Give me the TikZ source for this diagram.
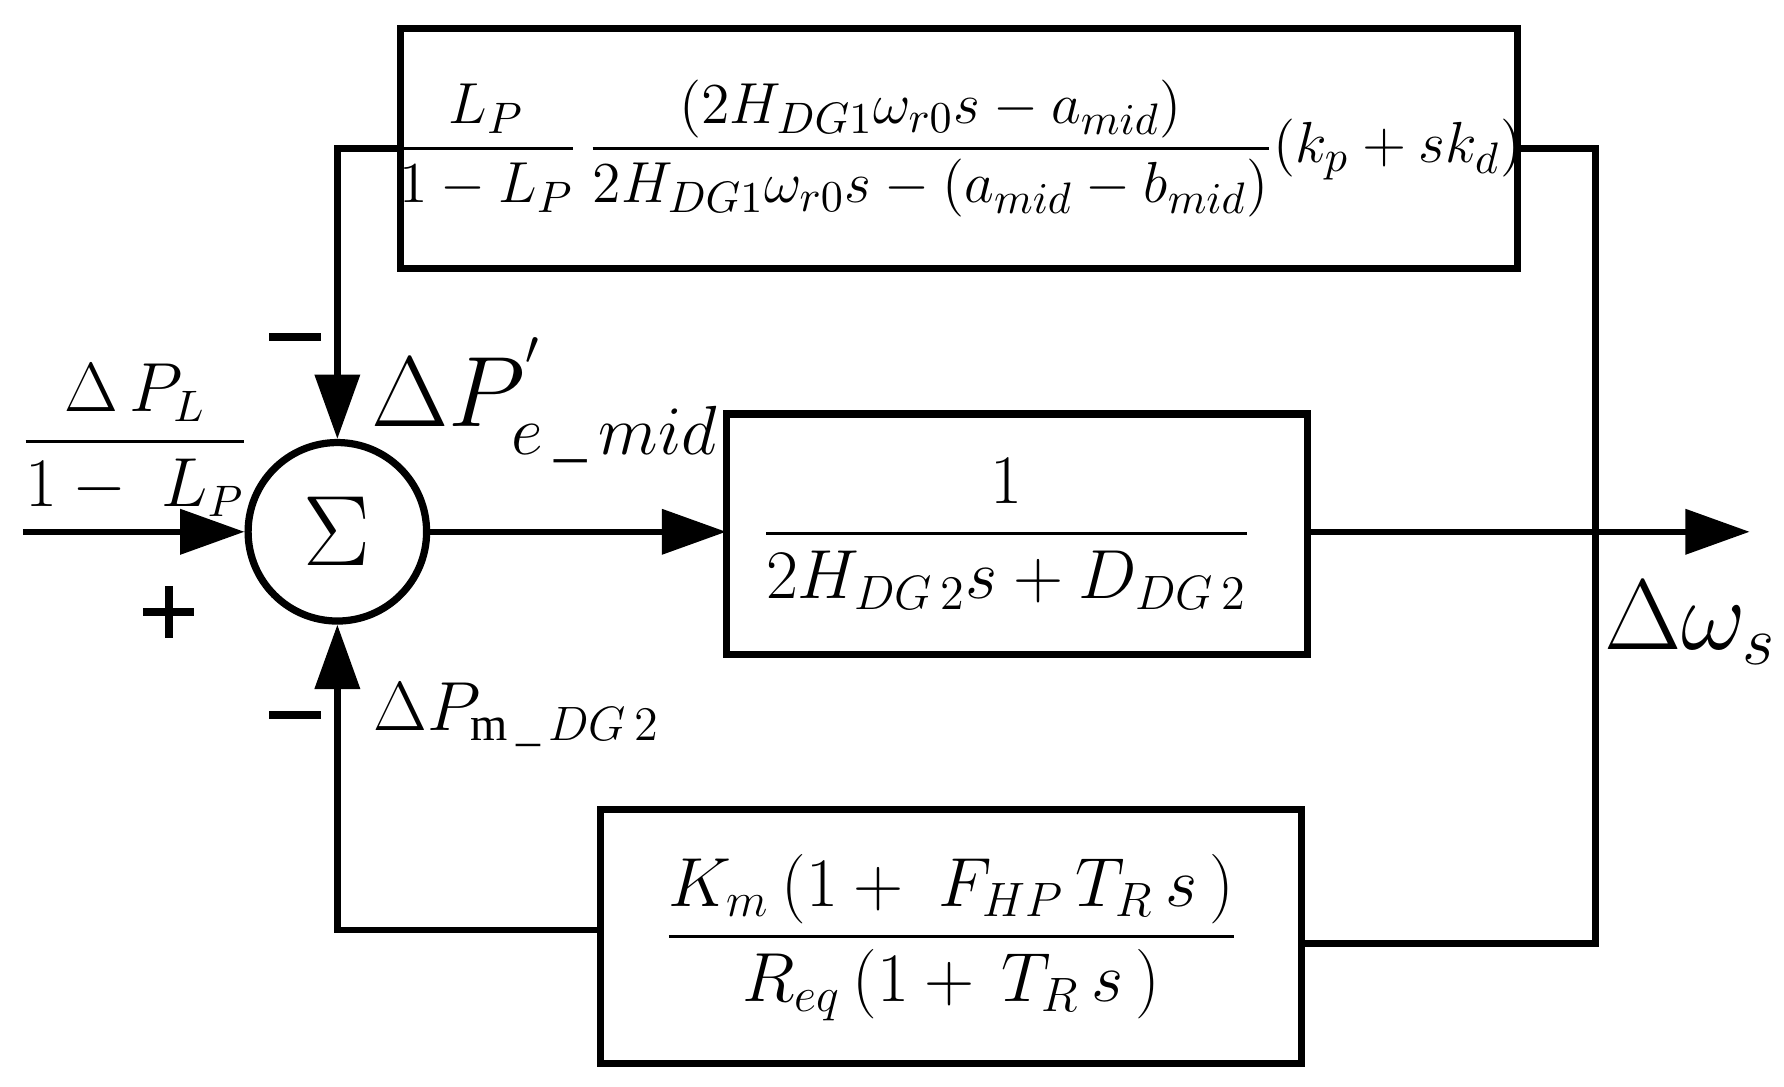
\documentclass[tikz,border=0pt]{standalone}
\usepackage{amsmath}
\usepackage{fontspec}
\setmainfont{Liberation Serif}
\usetikzlibrary{arrows.meta}
\begin{document}
\begin{tikzpicture}[x=0.01cm,y=-0.01cm,line width=1.6pt,
  arr/.style={-{Triangle[length=16pt,width=11pt]}},
  lab/.style={font=\fontsize{18}{22}\selectfont},
  sg/.style={font=\fontsize{34}{36}\selectfont\bfseries}]
\useasboundingbox (0,0) rectangle (1560,950);
\draw[line width=1.8pt] (350,25) rectangle (1327,235);
\node (top) [font=\fontsize{15}{18}\selectfont] at (838,130) {$\dfrac{L_P}{1-L_P}\,\dfrac{(2H_{DG1}\omega_{r0}s-a_{mid})}{2H_{DG1}\omega_{r0}s-(a_{mid}-b_{mid})}(k_p+sk_d)$};
\draw[line width=1.8pt] (635,362) rectangle (1143,572);
\node (mid) [lab] at (880,467) {$\dfrac{\hphantom{xx}1\hphantom{xx}}{2H_{DG\,2}s+D_{DG\,2}}$};
\draw[line width=1.8pt] (525,708) rectangle (1138,930);
\node (bot) [lab] at (832,820) {$\dfrac{K_m\,(1+\;F_{HP}\,T_R\,s\,)}{R_{eq}\,(1+\,T_R\,s\,)}$};
\coordinate (tl) at (350,130); \coordinate (tr) at (1327,130);
\coordinate (ml) at (635,465); \coordinate (mr) at (1143,465);
\coordinate (bl) at (525,813); \coordinate (br) at (1138,825);
\node (sum) [circle,draw,line width=1.8pt,minimum size=1.56cm,inner sep=0pt,font=\fontsize{40}{40}\selectfont] at (295,465) {$\Sigma$};
\coordinate (in) at (20,465); \coordinate (out) at (1530,465);
\draw[arr] (in) -- (sum.west);
\draw[arr] (tl) -- (295,130) -- (sum.north);
\draw[arr] (sum.east) -- (ml);
\draw[arr] (mr) -- (out);
\draw (tr) -- (1395,130) -- (1395,825) -- (br);
\draw[arr] (bl) -- (295,813) -- (sum.south);
\node[font=\fontsize{16}{19}\selectfont] at (118,385) {$\dfrac{\Delta\,P_L}{1-\;L_P}$};
\node (m1) at (258,295) {\rule{0.45cm}{0.07cm}};
\node (pl) at (138,535) {\rule{0.45cm}{0.07cm}\hspace{-0.45cm}\raisebox{-0.19cm}{\hspace{0.19cm}\rule{0.07cm}{0.45cm}}\hspace{0.19cm}};
\node (m2) at (258,625) {\rule{0.45cm}{0.07cm}};
\node[anchor=west,font=\fontsize{23}{26}\selectfont] at (310,350) {$\Delta P^{'}_{e\,\_\,mid}$};
\node[anchor=west,font=\fontsize{17}{20}\selectfont] at (312,625) {$\Delta P_{\mathrm{m}\,\_\,DG\,2}$};
\node[font=\fontsize{23}{26}\selectfont] at (1478,545) {$\Delta\omega_s$};
\end{tikzpicture}
\end{document}
